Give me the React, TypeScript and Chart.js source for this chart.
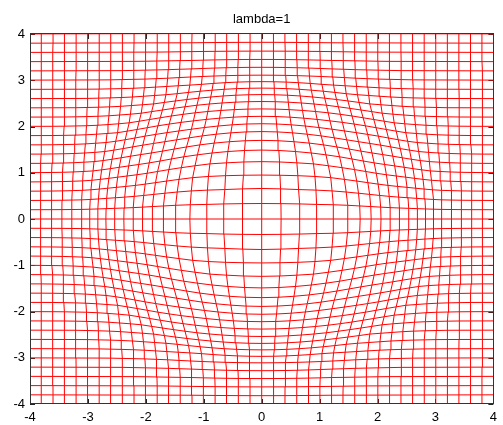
import React, { useEffect, useRef } from "react";
import { Chart, registerables } from "chart.js";

Chart.register(...registerables);

const chartTitle = "lambda=1";

// undeformed grid coordinates (both directions)
const gridValues = [
  -4, -3.8, -3.6, -3.4, -3.2, -3, -2.8, -2.6, -2.4, -2.2, -2, -1.8, -1.6, -1.4, -1.2, -1, -0.8, -0.6, -0.4, -0.2,
  0, 0.2, 0.4, 0.6, 0.8, 1, 1.2, 1.4, 1.6, 1.8, 2, 2.2, 2.4, 2.6, 2.8, 3, 3.2, 3.4, 3.6, 3.8, 4,
];

// radial deformation: original radius -> drawn radius
const radiusIn = [0, 0.2, 0.4, 0.6, 0.8, 1.0, 1.2, 1.4, 1.6, 1.8, 2.0, 2.2, 2.4, 2.6, 2.8, 3.0, 3.2, 3.4, 3.6, 3.8, 4.0, 6.0];
const radiusOut = [0, 0.335, 0.66, 0.95, 1.24, 1.49, 1.7, 1.89, 2.06, 2.22, 2.38, 2.54, 2.69, 2.83, 2.97, 3.11, 3.28, 3.45, 3.63, 3.82, 4.01, 6.0];

const xTickValues = [-4, -3, -2, -1, 0, 1, 2, 3, 4];
const yTickValues = [-4, -3, -2, -1, 0, 1, 2, 3, 4];

function drawnRadius(r: number): number {
  for (let k = 1; k < radiusIn.length; k++) {
    if (r <= radiusIn[k]) {
      const t = (r - radiusIn[k - 1]) / (radiusIn[k] - radiusIn[k - 1]);
      return radiusOut[k - 1] + t * (radiusOut[k] - radiusOut[k - 1]);
    }
  }
  return r;
}

function warp(x: number, y: number) {
  const r = Math.hypot(x, y);
  if (r === 0) return { x: 0, y: 0 };
  const s = drawnRadius(r) / r;
  return { x: x * s, y: y * s };
}

const FONT = '"Liberation Sans", Arial, sans-serif';

const frame = {
  id: "frame",
  beforeDatasetsDraw(chart: any) {
    const { ctx, chartArea: a, scales } = chart;
    ctx.save();
    ctx.strokeStyle = "#222";
    ctx.lineWidth = 1;
    ctx.beginPath();
    for (const v of xTickValues) {
      const px = Math.round(scales.x.getPixelForValue(v)) + 0.5;
      ctx.moveTo(px, a.bottom);
      ctx.lineTo(px, a.bottom - 5);
      ctx.moveTo(px, a.top);
      ctx.lineTo(px, a.top + 5);
    }
    for (const v of yTickValues) {
      const py = Math.round(scales.y.getPixelForValue(v)) + 0.5;
      ctx.moveTo(a.left, py);
      ctx.lineTo(a.left + 5, py);
      ctx.moveTo(a.right, py);
      ctx.lineTo(a.right - 5, py);
    }
    ctx.stroke();
    ctx.restore();
  },
  afterDatasetsDraw(chart: any) {
    const { ctx, chartArea: a } = chart;
    ctx.save();
    ctx.strokeStyle = "#333";
    ctx.lineWidth = 1;
    ctx.strokeRect(Math.round(a.left) + 0.5, Math.round(a.top) - 0.5, Math.round(a.right - a.left), Math.round(a.bottom - a.top));
    ctx.fillStyle = "#000";
    ctx.font = `13px ${FONT}`;
    ctx.textAlign = "center";
    ctx.textBaseline = "alphabetic";
    ctx.fillText(chartTitle, (a.left + a.right) / 2, 23);
    ctx.restore();
  },
};

export default function App() {
  const ref = useRef<HTMLCanvasElement | null>(null);

  useEffect(() => {
    if (!ref.current) return;
    const datasets: any[] = [];
    for (const gy of gridValues) {
      datasets.push({
        data: gridValues.map((gx) => warp(gx, gy)),
        showLine: true,
        borderColor: "#ff0000",
        borderWidth: 1,
        pointRadius: 0,
        tension: 0,
      });
    }
    for (const gx of gridValues) {
      datasets.push({
        data: gridValues.map((gy) => warp(gx, gy)),
        showLine: true,
        borderColor: "#ff0000",
        borderWidth: 1,
        pointRadius: 0,
        tension: 0,
      });
    }
    const tickCfg = (vals: number[]) => ({
      afterBuildTicks: (scale: any) => {
        scale.ticks = vals.map((v) => ({ value: v }));
      },
    });
    const chart = new Chart(ref.current, {
      type: "scatter",
      data: { datasets },
      options: {
        animation: false,
        responsive: false,
        events: [],
        layout: { padding: { top: 34, right: 4, left: 0, bottom: 0 } },
        plugins: { legend: { display: false }, tooltip: { enabled: false }, title: { display: false } },
        scales: {
          x: {
            type: "linear",
            min: -4,
            max: 4,
            ...tickCfg(xTickValues),
            afterFit: (s: any) => {
              s.height = 21;
            },
            grid: { display: false, drawTicks: false },
            border: { display: false },
            ticks: { color: "#000", padding: 6, maxRotation: 0, autoSkip: false, font: { family: FONT, size: 13 } },
          },
          y: {
            type: "linear",
            min: -4,
            max: 4,
            ...tickCfg(yTickValues),
            afterFit: (s: any) => {
              s.width = 30;
            },
            grid: { display: false, drawTicks: false },
            border: { display: false },
            ticks: { color: "#000", padding: 5, autoSkip: false, font: { family: FONT, size: 13 } },
          },
        },
      },
      plugins: [frame],
    });
    return () => chart.destroy();
  }, []);

  return (
    <div style={{ position: "absolute", left: 0, top: 0, width: 503, height: 425, background: "#fff" }}>
      <canvas ref={ref} width={503} height={425} style={{ display: "block" }} />
    </div>
  );
}
